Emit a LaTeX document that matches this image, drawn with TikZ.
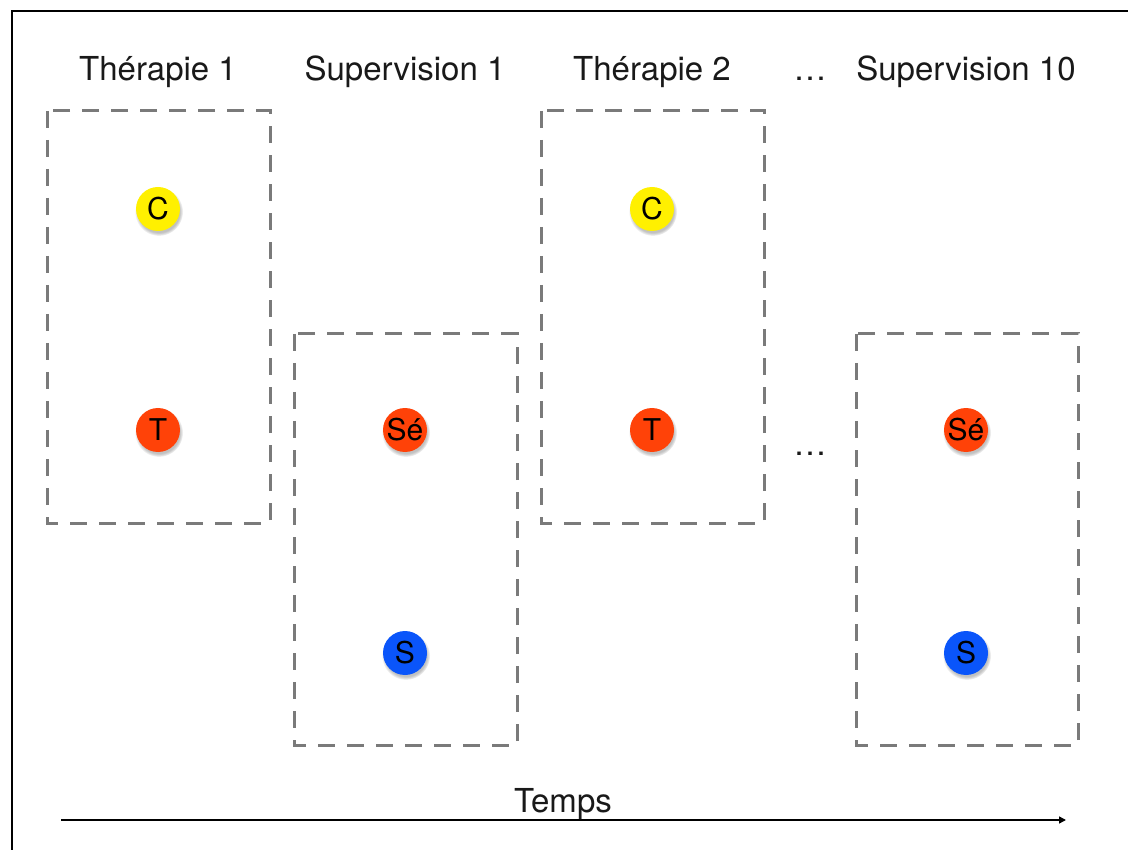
\documentclass[tikz,border=0pt]{standalone}
\usepackage{fontspec}
\setmainfont{TeX Gyre Heros}
\usetikzlibrary{shadows,arrows.meta}
\definecolor{cyel}{HTML}{FFF000}
\definecolor{cred}{HTML}{FF4208}
\definecolor{cblue}{HTML}{0A55FA}
\definecolor{boxgray}{HTML}{7A7A7A}
\tikzset{
  sessionbox/.style={draw=boxgray, line width=3pt, dash pattern=on 17pt off 12pt},
  person/.style={circle, minimum size=44pt, inner sep=0pt, text=black,
    font=\fontsize{30}{32}\selectfont,
    circular drop shadow={shadow xshift=0.8pt, shadow yshift=-2.5pt, opacity=0.35, fill=black!70}},
  title/.style={font=\fontsize{33}{38}\selectfont, text=black!90, inner sep=0pt, anchor=base},
}
\begin{document}
\begin{tikzpicture}[x=1pt,y=-1pt]
\useasboundingbox (0,0) rectangle (1128,850);
% frame (only top and left visible)
\draw[line width=1.6pt] (12,850) -- (12,11) -- (1128,11);
% boxes
\draw[sessionbox] (47,111) rectangle (270,523);
\draw[sessionbox] (294,334) rectangle (517,745);
\draw[sessionbox] (541,111) rectangle (764,523);
\draw[sessionbox] (856,334) rectangle (1078,745);
% titles
\node[title] (t1) at (158,81) {Thérapie 1};
\node[title] (s1) at (405,81) {Supervision 1};
\node[title] (t2) at (652,81) {Thérapie 2};
\node[title] (d1) at (810,81) {\ldots};
\node[title] (s10) at (966,81) {Supervision 10};
\node[title] (d2) at (810,455) {\ldots};
% persons
\node[person, fill=cyel] (c1) at (158,209) {C};
\node[person, fill=cred] (th1) at (158,430) {T};
\node[person, fill=cred] (se1) at (405,430) {Sé};
\node[person, fill=cblue] (su1) at (405,653) {S};
\node[person, fill=cyel] (c2) at (652,209) {C};
\node[person, fill=cred] (th2) at (652,430) {T};
\node[person, fill=cred] (se2) at (966,430) {Sé};
\node[person, fill=cblue] (su2) at (966,653) {S};
% time axis
\coordinate (a0) at (61,820);
\coordinate (a1) at (1066,820);
\draw[line width=1.5pt, -{Triangle[length=7pt,width=7pt]}] (a0) -- (a1);
\node[title] (temps) at (563,812) {Temps};
\end{tikzpicture}
\end{document}
